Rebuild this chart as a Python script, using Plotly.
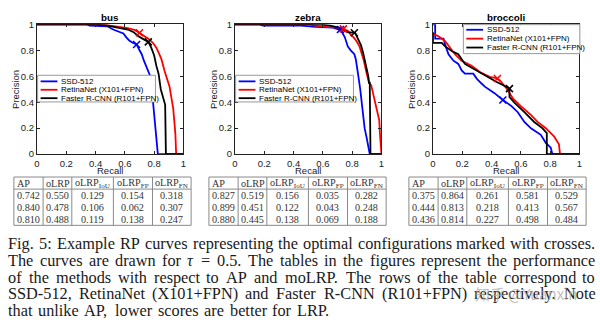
import plotly.graph_objects as go

W, H = 600, 326


def fx(x):
    return x / W


def fy(y):
    return 1 - y / H


# ---------------- data ----------------
classes = ["bus", "zebra", "broccoli"]
methods = ["SSD-512", "RetinaNet (X101+FPN)", "Faster R-CNN (R101+FPN)"]
colors = ["#0000ff", "#ff0000", "#000000"]

bus_ssd_recall = [0, 0.34, 0.36, 0.48, 0.52, 0.56, 0.59, 0.61, 0.63, 0.65, 0.68, 0.70, 0.715, 0.73, 0.75, 0.77, 0.78, 0.79, 0.80, 0.81, 0.82, 0.825, 1.0]
bus_ssd_precision = [1, 1, 0.99, 0.985, 0.96, 0.945, 0.93, 0.90, 0.875, 0.86, 0.845, 0.80, 0.77, 0.72, 0.66, 0.61, 0.55, 0.44, 0.33, 0.22, 0.10, 0, 0]
bus_retina_recall = [0, 0.45, 0.50, 0.56, 0.62, 0.67, 0.70, 0.73, 0.76, 0.79, 0.815, 0.835, 0.85, 0.87, 0.89, 0.905, 0.915, 0.93, 0.94, 0.945, 0.95, 1.0]
bus_retina_precision = [1, 1, 0.99, 0.98, 0.97, 0.955, 0.935, 0.915, 0.89, 0.86, 0.82, 0.77, 0.73, 0.645, 0.58, 0.52, 0.45, 0.35, 0.22, 0.15, 0, 0]
bus_faster_recall = [0, 0.40, 0.48, 0.55, 0.62, 0.66, 0.69, 0.72, 0.76, 0.78, 0.80, 0.815, 0.83, 0.845, 0.86, 0.875, 0.88, 1.0]
bus_faster_precision = [1, 1, 0.99, 0.975, 0.96, 0.94, 0.91, 0.89, 0.865, 0.82, 0.76, 0.68, 0.62, 0.50, 0.43, 0.38, 0, 0]
bus_opt_recall = [0.68, 0.70, 0.76]
bus_opt_precision = [0.845, 0.935, 0.865]

zebra_ssd_recall = [0, 0.17, 0.19, 0.45, 0.55, 0.67, 0.71, 0.73, 0.75, 0.76, 0.77, 0.79, 0.815, 0.825, 0.835, 0.845, 0.855, 0.865, 0.875, 0.885, 0.90, 0.91, 0.92, 1.0]
zebra_ssd_precision = [1, 1, 0.99, 0.99, 0.98, 0.975, 0.96, 0.94, 0.90, 0.87, 0.83, 0.80, 0.77, 0.73, 0.67, 0.58, 0.50, 0.40, 0.28, 0.20, 0.12, 0.06, 0, 0]
zebra_retina_recall = [0, 0.50, 0.55, 0.62, 0.70, 0.74, 0.77, 0.79, 0.81, 0.83, 0.85, 0.865, 0.88, 0.895, 0.905, 0.915, 0.93, 0.94, 0.955, 0.97, 0.985, 0.99, 0.995, 1.0]
zebra_retina_precision = [1, 1, 0.99, 0.98, 0.975, 0.965, 0.95, 0.92, 0.90, 0.87, 0.83, 0.78, 0.72, 0.64, 0.60, 0.55, 0.53, 0.48, 0.40, 0.33, 0.26, 0.15, 0, 0]
zebra_faster_recall = [0, 0.58, 0.65, 0.71, 0.75, 0.77, 0.82, 0.84, 0.86, 0.875, 0.89, 0.90, 0.91, 0.915, 0.92, 0.925, 1.0]
zebra_faster_precision = [1, 1, 0.99, 0.975, 0.95, 0.94, 0.935, 0.89, 0.84, 0.78, 0.71, 0.65, 0.60, 0.55, 0.55, 0, 0]
zebra_opt_recall = [0.72, 0.74, 0.815]
zebra_opt_precision = [0.96, 0.965, 0.935]

broccoli_ssd_recall = [0, 0.015, 0.015, 0.072, 0.084, 0.106, 0.14, 0.173, 0.196, 0.218, 0.275, 0.30, 0.33, 0.354, 0.42, 0.477, 0.534, 0.579, 0.624, 0.669, 0.736, 0.77, 0.804, 0.815, 1.0]
broccoli_ssd_precision = [1, 1, 0.89, 0.89, 0.84, 0.77, 0.72, 0.695, 0.645, 0.62, 0.62, 0.58, 0.546, 0.52, 0.47, 0.417, 0.372, 0.323, 0.248, 0.199, 0.149, 0.087, 0.05, 0, 0]
broccoli_retina_recall = [0, 0.04, 0.083, 0.117, 0.15, 0.196, 0.264, 0.32, 0.387, 0.432, 0.455, 0.50, 0.545, 0.60, 0.67, 0.714, 0.77, 0.826, 0.86, 0.867, 1.0]
broccoli_retina_precision = [0.93, 0.906, 0.87, 0.82, 0.77, 0.72, 0.68, 0.633, 0.595, 0.585, 0.57, 0.51, 0.43, 0.37, 0.30, 0.248, 0.20, 0.137, 0.075, 0, 0]
broccoli_faster_recall = [0, 0, 0.06, 0.083, 0.128, 0.173, 0.218, 0.275, 0.33, 0.376, 0.432, 0.477, 0.522, 0.522, 0.556, 0.624, 0.691, 0.748, 0.777, 0.777, 1.0]
broccoli_faster_precision = [0.94, 0.857, 0.857, 0.83, 0.794, 0.77, 0.695, 0.657, 0.62, 0.596, 0.558, 0.533, 0.505, 0.44, 0.397, 0.323, 0.248, 0.199, 0.162, 0, 0]
broccoli_opt_recall = [0.477, 0.44, 0.522]
broccoli_opt_precision = [0.417, 0.583, 0.505]

table_header = ["AP", "oLRP", "oLRP<sub>IoU</sub>", "oLRP<sub>FP</sub>", "oLRP<sub>FN</sub>"]
bus_table = [["0.742", "0.550", "0.129", "0.154", "0.318"],
             ["0.840", "0.478", "0.106", "0.062", "0.307"],
             ["0.810", "0.488", "0.119", "0.138", "0.247"]]
zebra_table = [["0.827", "0.519", "0.156", "0.035", "0.282"],
               ["0.899", "0.451", "0.122", "0.043", "0.248"],
               ["0.880", "0.445", "0.138", "0.069", "0.188"]]
broccoli_table = [["0.375", "0.864", "0.261", "0.581", "0.529"],
                  ["0.444", "0.813", "0.218", "0.413", "0.567"],
                  ["0.436", "0.814", "0.227", "0.498", "0.484"]]

caption_lines = [
    "Fig. 5: Example RP curves representing the optimal configurations marked with crosses.",
    "The curves are drawn for <i>τ</i> = 0.5. The tables in the figures represent the performance",
    "of the methods with respect to AP and moLRP. The rows of the table correspond to",
    "SSD-512, RetinaNet (X101+FPN) and Faster R-CNN (R101+FPN) respectively. Note",
    "that unlike AP, lower scores are better for LRP.",
]

curves = {
    "bus": [(bus_ssd_recall, bus_ssd_precision), (bus_retina_recall, bus_retina_precision), (bus_faster_recall, bus_faster_precision)],
    "zebra": [(zebra_ssd_recall, zebra_ssd_precision), (zebra_retina_recall, zebra_retina_precision), (zebra_faster_recall, zebra_faster_precision)],
    "broccoli": [(broccoli_ssd_recall, broccoli_ssd_precision), (broccoli_retina_recall, broccoli_retina_precision), (broccoli_faster_recall, broccoli_faster_precision)],
}
optima = {
    "bus": (bus_opt_recall, bus_opt_precision),
    "zebra": (zebra_opt_recall, zebra_opt_precision),
    "broccoli": (broccoli_opt_recall, broccoli_opt_precision),
}
tables = {"bus": bus_table, "zebra": zebra_table, "broccoli": broccoli_table}

# ---------------- layout constants ----------------
SANS = "Liberation Sans, Arial, sans-serif"
SERIF = "Liberation Serif, Times New Roman, serif"
ax_left = [34.3, 234.3, 434.3]
ax_w = 148.0
ax_top, ax_bot = 19.0, 153.3
legend_boxes = [  # x0, y0, x1, y1, item ys
    (35, 71.7, 154, 99.3, [78.0, 86.7, 95.4]),
    (235, 71.7, 354, 99.3, [78.0, 86.7, 95.4]),
    (465, 19.3, 582.7, 49.3, [24.6, 33.8, 43.0]),
]
table_left = [11, 208, 410]
col_w = [29.5, 29, 42, 39.5, 39]
row_y = [177, 189.5, 202, 214.5, 227]

# Times-compatible advance widths (1/1000 em) used to justify the caption
TW = {" ": 250, "!": 333, "(": 333, ")": 333, "+": 564, ",": 250, "-": 333, ".": 250, ":": 278,
      "=": 564, "τ": 440,
      "A": 722, "B": 667, "C": 667, "D": 722, "E": 611, "F": 556, "G": 722, "H": 722, "I": 333,
      "J": 389, "K": 722, "L": 611, "M": 889, "N": 722, "O": 722, "P": 556, "Q": 722, "R": 667,
      "S": 556, "T": 611, "U": 722, "V": 722, "W": 944, "X": 722, "Y": 722, "Z": 611,
      "a": 444, "b": 500, "c": 444, "d": 500, "e": 444, "f": 333, "g": 500, "h": 500, "i": 278,
      "j": 278, "k": 500, "l": 278, "m": 778, "n": 500, "o": 500, "p": 500, "q": 500, "r": 333,
      "s": 389, "t": 278, "u": 500, "v": 500, "w": 722, "x": 500, "y": 500, "z": 444}


def word_width(w, size):
    w = w.replace("<i>", "").replace("</i>", "")
    return sum(TW.get(ch, 500) for ch in w) / 1000.0 * size


fig = go.Figure()
shapes = []
annotations = []

for k, cls in enumerate(classes):
    xa = "x" if k == 0 else f"x{k+1}"
    ya = "y" if k == 0 else f"y{k+1}"
    for m in range(3):
        r, p = curves[cls][m]
        fig.add_trace(go.Scatter(x=r, y=p, mode="lines", xaxis=xa, yaxis=ya,
                                 line=dict(color=colors[m], width=1.8), showlegend=False,
                                 hoverinfo="skip"))
    orr, opp = optima[cls]
    for m in range(3):
        fig.add_trace(go.Scatter(x=[orr[m]], y=[opp[m]], mode="markers", xaxis=xa, yaxis=ya,
                                 marker=dict(symbol="x-thin", size=7, line=dict(color=colors[m], width=1.6)),
                                 showlegend=False, hoverinfo="skip", cliponaxis=False))

    axis_common = dict(range=[0, 1], tickvals=[0, 0.2, 0.4, 0.6, 0.8, 1],
                       ticktext=["0", "0.2", "0.4", "0.6", "0.8", "1"],
                       ticks="inside", ticklen=3, tickcolor="#222", tickwidth=1,
                       showline=True, linecolor="#222", linewidth=1, mirror="ticks",
                       showgrid=False, zeroline=False, fixedrange=True,
                       tickfont=dict(family=SANS, size=9.5, color="#222"))
    xkey = "xaxis" if k == 0 else f"xaxis{k+1}"
    ykey = "yaxis" if k == 0 else f"yaxis{k+1}"
    fig.layout[xkey] = dict(domain=[fx(ax_left[k]), fx(ax_left[k] + ax_w)], anchor=ya, **axis_common)
    fig.layout[ykey] = dict(domain=[fy(ax_bot), fy(ax_top)], anchor=xa, **axis_common)

    cx = ax_left[k] + ax_w / 2
    annotations.append(dict(text=f"<b>{cls}</b>", x=fx(cx), y=fy(12), xref="paper", yref="paper",
                            showarrow=False, font=dict(family=SANS, size=9.8, color="black"),
                            xanchor="center", yanchor="middle"))
    annotations.append(dict(text="Recall", x=fx(cx), y=fy(170), xref="paper", yref="paper",
                            showarrow=False, font=dict(family=SANS, size=9.5, color="#222"),
                            xanchor="center", yanchor="middle"))
    annotations.append(dict(text="Precision", x=fx(ax_left[k] - 21.5), y=fy((ax_top + ax_bot) / 2),
                            xref="paper", yref="paper", textangle=-90,
                            showarrow=False, font=dict(family=SANS, size=9.5, color="#222"),
                            xanchor="center", yanchor="middle"))

    # legend box
    x0, y0, x1, y1, iys = legend_boxes[k]
    shapes.append(dict(type="rect", xref="paper", yref="paper", x0=fx(x0), x1=fx(x1), y0=fy(y1), y1=fy(y0),
                       fillcolor="white", line=dict(color="#9a9a9a", width=1), layer="above"))
    for m in range(3):
        shapes.append(dict(type="line", xref="paper", yref="paper", x0=fx(x0 + 3), x1=fx(x0 + 20),
                           y0=fy(iys[m]), y1=fy(iys[m]), line=dict(color=colors[m], width=1.8), layer="above"))
        annotations.append(dict(text=methods[m], x=fx(x0 + 21.5), y=fy(iys[m]), xref="paper", yref="paper",
                                showarrow=False, font=dict(family=SANS, size=8, color="black"),
                                xanchor="left", yanchor="middle"))

    # table
    tl = table_left[k]
    edges = [tl]
    for w in col_w:
        edges.append(edges[-1] + w)
    tcol = "#8a8a8a"
    shapes.append(dict(type="rect", xref="paper", yref="paper", x0=fx(edges[0]), x1=fx(edges[-1]),
                       y0=fy(row_y[-1]), y1=fy(row_y[0]), line=dict(color=tcol, width=1)))
    for e in edges[1:-1]:
        shapes.append(dict(type="line", xref="paper", yref="paper", x0=fx(e), x1=fx(e),
                           y0=fy(row_y[-1]), y1=fy(row_y[0]), line=dict(color=tcol, width=1)))
    shapes.append(dict(type="line", xref="paper", yref="paper", x0=fx(edges[0]), x1=fx(edges[-1]),
                       y0=fy(row_y[1]), y1=fy(row_y[1]), line=dict(color=tcol, width=1)))
    rows = [table_header] + tables[cls]
    for ri, row in enumerate(rows):
        yc = (row_y[ri] + row_y[ri + 1]) / 2
        for ci, val in enumerate(row):
            if ci < 2:
                xx, xanc = edges[ci] + 1.0, "left"
            else:
                xx, xanc = (edges[ci] + edges[ci + 1]) / 2, "center"
            annotations.append(dict(text=val, x=fx(xx), y=fy(yc), xref="paper", yref="paper",
                                    showarrow=False, font=dict(family=SERIF, size=10.2, color="#333"),
                                    xanchor=xanc, yanchor="middle"))

# caption, justified word by word
CAP_SIZE = 16.3
cap_y = [246, 263.3, 280.6, 297.9, 315.2]
cap_start = 4.0
cap_end = [597, 597, 597, 597, 330]
for i, line in enumerate(caption_lines):
    words = line.split(" ")
    widths = [word_width(w, CAP_SIZE) for w in words]
    gap = (cap_end[i] - cap_start - sum(widths)) / (len(words) - 1)
    xpos = cap_start
    for w, ww in zip(words, widths):
        annotations.append(dict(text=w, x=fx(xpos - 1), y=fy(cap_y[i]), xref="paper", yref="paper",
                                showarrow=False, font=dict(family=SERIF, size=CAP_SIZE, color="#1a1a1a"),
                                xanchor="left", yanchor="middle"))
        xpos += ww + gap

# watermark
annotations.append(dict(text="知乎 @Yuanxin", x=fx(582), y=fy(298), xref="paper", yref="paper",
                        showarrow=False, font=dict(family="Noto Sans CJK SC, sans-serif", size=15,
                                                   color="rgba(170,170,170,0.75)"),
                        xanchor="right", yanchor="middle"))

fig.update_layout(width=W, height=H, margin=dict(l=0, r=0, t=0, b=0),
                  paper_bgcolor="white", plot_bgcolor="white",
                  shapes=shapes, annotations=annotations, showlegend=False)

fig.write_html("out.html")
